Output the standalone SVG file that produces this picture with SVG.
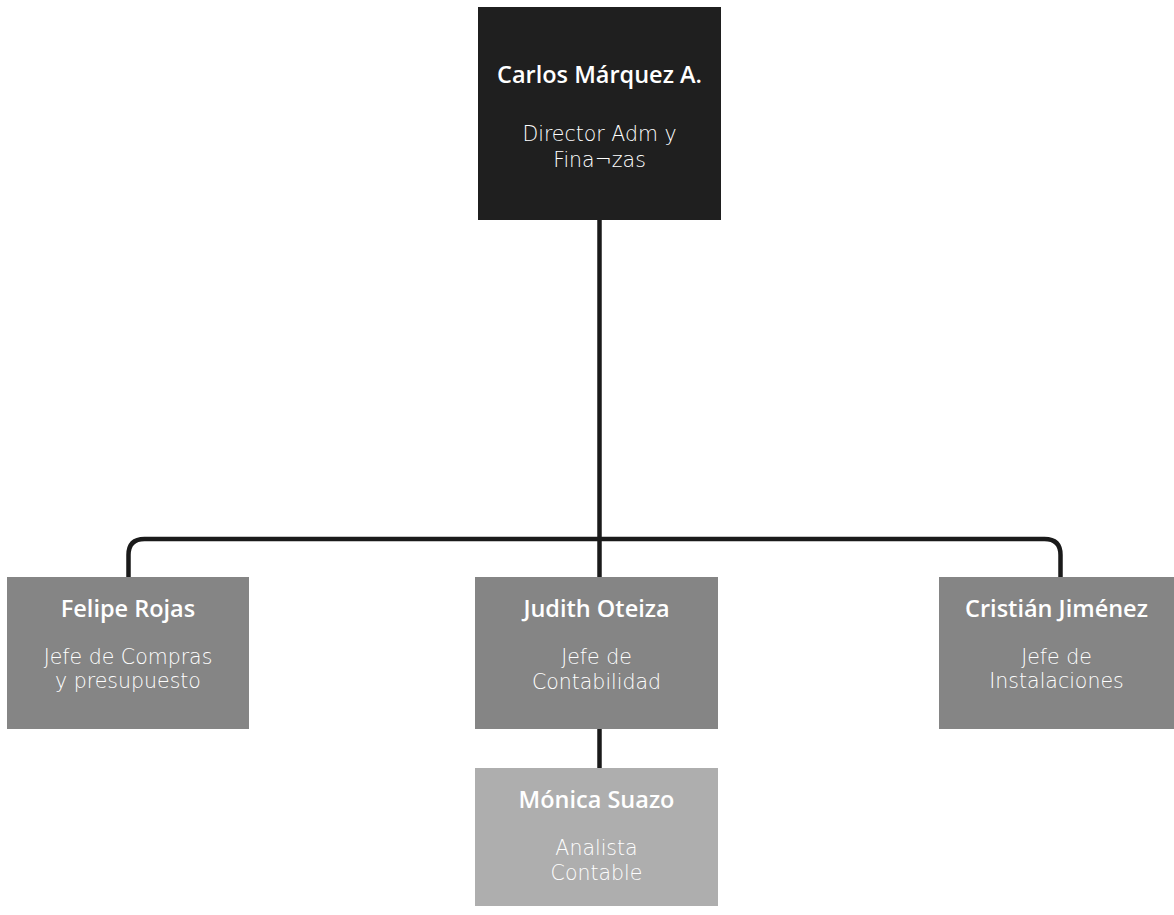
<svg xmlns="http://www.w3.org/2000/svg" width="1174" height="915" viewBox="0 0 1174 915">
<style>
.name{font-family:"Open Sans",Lato,"Liberation Sans",sans-serif;font-weight:600;fill:#ffffff;text-anchor:middle;font-size:23.5px}
.role{font-family:"DejaVu Sans","Open Sans",sans-serif;font-weight:200;fill:#ffffff;text-anchor:middle;font-size:20.5px}
.conn{fill:none;stroke:#1a1a1a;stroke-width:4.5}
</style>
<rect width="1174" height="915" fill="#ffffff"/>
<g id="connectors">
<path class="conn" d="M599.5 220 V577"/>
<path class="conn" d="M128.5 577 V555 Q128.5 539 144.5 539 H1044.5 Q1060.5 539 1060.5 555 V577"/>
<path class="conn" d="M599.5 729 V768"/>
</g>
<g id="node-carlos">
<rect x="478" y="7" width="243" height="213" fill="#1f1f1f"/>
<text class="name" x="599.5" y="83">Carlos Márquez A.</text>
<text class="role" x="599.5" y="141">Director Adm y</text>
<text class="role" x="599.5" y="167">Fina¬zas</text>
</g>
<g id="node-felipe">
<rect x="7" y="577" width="242" height="152" fill="#858585"/>
<text class="name" x="128" y="617">Felipe Rojas</text>
<text class="role" x="128" y="664">Jefe de Compras</text>
<text class="role" x="128" y="688">y presupuesto</text>
</g>
<g id="node-judith">
<rect x="475" y="577" width="243" height="152" fill="#858585"/>
<text class="name" x="596.5" y="617">Judith Oteiza</text>
<text class="role" x="596.5" y="664">Jefe de</text>
<text class="role" x="596.5" y="689">Contabilidad</text>
</g>
<g id="node-cristian">
<rect x="939" y="577" width="235" height="152" fill="#858585"/>
<text class="name" x="1056.5" y="617">Cristián Jiménez</text>
<text class="role" x="1056.5" y="664">Jefe de</text>
<text class="role" x="1056.5" y="688">Instalaciones</text>
</g>
<g id="node-monica">
<rect x="475" y="768" width="243" height="138" fill="#aeaeae"/>
<text class="name" x="596.5" y="808">Mónica Suazo</text>
<text class="role" x="596.5" y="855">Analista</text>
<text class="role" x="596.5" y="880">Contable</text>
</g>
</svg>
